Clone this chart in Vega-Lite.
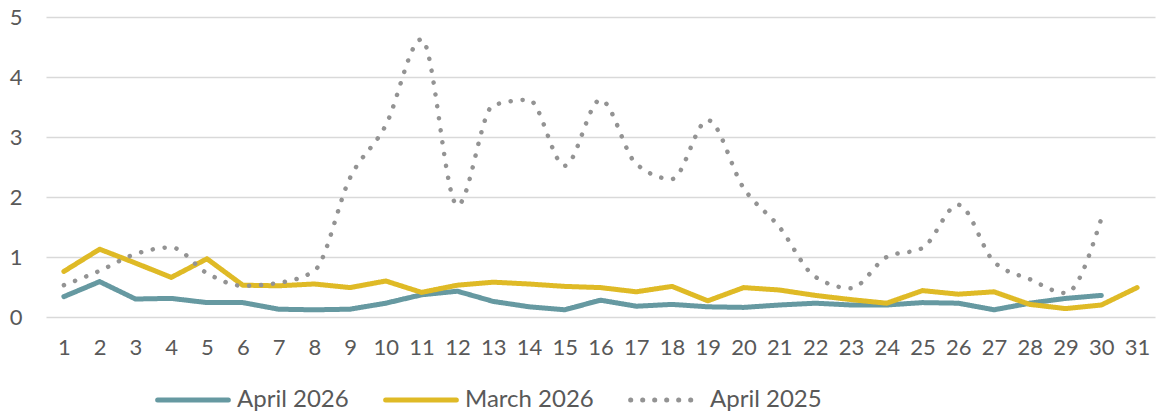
{
  "$schema": "https://vega.github.io/schema/vega-lite/v6.json",
  "autosize": "none",
  "width": 1109,
  "height": 300,
  "padding": {"left": 46, "top": 17, "right": 5, "bottom": 100},
  "background": "white",
  "config": {
    "font": "Lato",
    "view": {"stroke": null},
    "axis": {"labelFont": "Lato", "labelFontSize": 22, "labelColor": "#595959"}
  },
  "data": {
    "values": [
      {"day": "1", "series": "April 2026", "value": 0.34},
      {"day": "2", "series": "April 2026", "value": 0.59},
      {"day": "3", "series": "April 2026", "value": 0.30},
      {"day": "4", "series": "April 2026", "value": 0.31},
      {"day": "5", "series": "April 2026", "value": 0.24},
      {"day": "6", "series": "April 2026", "value": 0.24},
      {"day": "7", "series": "April 2026", "value": 0.13},
      {"day": "8", "series": "April 2026", "value": 0.12},
      {"day": "9", "series": "April 2026", "value": 0.13},
      {"day": "10", "series": "April 2026", "value": 0.23},
      {"day": "11", "series": "April 2026", "value": 0.37},
      {"day": "12", "series": "April 2026", "value": 0.43},
      {"day": "13", "series": "April 2026", "value": 0.26},
      {"day": "14", "series": "April 2026", "value": 0.17},
      {"day": "15", "series": "April 2026", "value": 0.12},
      {"day": "16", "series": "April 2026", "value": 0.28},
      {"day": "17", "series": "April 2026", "value": 0.18},
      {"day": "18", "series": "April 2026", "value": 0.21},
      {"day": "19", "series": "April 2026", "value": 0.17},
      {"day": "20", "series": "April 2026", "value": 0.16},
      {"day": "21", "series": "April 2026", "value": 0.20},
      {"day": "22", "series": "April 2026", "value": 0.23},
      {"day": "23", "series": "April 2026", "value": 0.20},
      {"day": "24", "series": "April 2026", "value": 0.20},
      {"day": "25", "series": "April 2026", "value": 0.24},
      {"day": "26", "series": "April 2026", "value": 0.23},
      {"day": "27", "series": "April 2026", "value": 0.12},
      {"day": "28", "series": "April 2026", "value": 0.23},
      {"day": "29", "series": "April 2026", "value": 0.31},
      {"day": "30", "series": "April 2026", "value": 0.36},
      {"day": "1", "series": "March 2026", "value": 0.76},
      {"day": "2", "series": "March 2026", "value": 1.13},
      {"day": "3", "series": "March 2026", "value": 0.90},
      {"day": "4", "series": "March 2026", "value": 0.66},
      {"day": "5", "series": "March 2026", "value": 0.97},
      {"day": "6", "series": "March 2026", "value": 0.53},
      {"day": "7", "series": "March 2026", "value": 0.52},
      {"day": "8", "series": "March 2026", "value": 0.55},
      {"day": "9", "series": "March 2026", "value": 0.49},
      {"day": "10", "series": "March 2026", "value": 0.60},
      {"day": "11", "series": "March 2026", "value": 0.41},
      {"day": "12", "series": "March 2026", "value": 0.53},
      {"day": "13", "series": "March 2026", "value": 0.58},
      {"day": "14", "series": "March 2026", "value": 0.55},
      {"day": "15", "series": "March 2026", "value": 0.51},
      {"day": "16", "series": "March 2026", "value": 0.49},
      {"day": "17", "series": "March 2026", "value": 0.42},
      {"day": "18", "series": "March 2026", "value": 0.51},
      {"day": "19", "series": "March 2026", "value": 0.27},
      {"day": "20", "series": "March 2026", "value": 0.49},
      {"day": "21", "series": "March 2026", "value": 0.45},
      {"day": "22", "series": "March 2026", "value": 0.36},
      {"day": "23", "series": "March 2026", "value": 0.29},
      {"day": "24", "series": "March 2026", "value": 0.23},
      {"day": "25", "series": "March 2026", "value": 0.44},
      {"day": "26", "series": "March 2026", "value": 0.38},
      {"day": "27", "series": "March 2026", "value": 0.42},
      {"day": "28", "series": "March 2026", "value": 0.21},
      {"day": "29", "series": "March 2026", "value": 0.14},
      {"day": "30", "series": "March 2026", "value": 0.20},
      {"day": "31", "series": "March 2026", "value": 0.49},
      {"day": "1", "series": "April 2025", "value": 0.53},
      {"day": "2", "series": "April 2025", "value": 0.77},
      {"day": "3", "series": "April 2025", "value": 1.05},
      {"day": "4", "series": "April 2025", "value": 1.16},
      {"day": "5", "series": "April 2025", "value": 0.73},
      {"day": "6", "series": "April 2025", "value": 0.52},
      {"day": "7", "series": "April 2025", "value": 0.57},
      {"day": "8", "series": "April 2025", "value": 0.77},
      {"day": "9", "series": "April 2025", "value": 2.32},
      {"day": "10", "series": "April 2025", "value": 3.2},
      {"day": "11", "series": "April 2025", "value": 4.63},
      {"day": "12", "series": "April 2025", "value": 1.86},
      {"day": "13", "series": "April 2025", "value": 3.53},
      {"day": "14", "series": "April 2025", "value": 3.62},
      {"day": "15", "series": "April 2025", "value": 2.52},
      {"day": "16", "series": "April 2025", "value": 3.62},
      {"day": "17", "series": "April 2025", "value": 2.55},
      {"day": "18", "series": "April 2025", "value": 2.3},
      {"day": "19", "series": "April 2025", "value": 3.28},
      {"day": "20", "series": "April 2025", "value": 2.15},
      {"day": "21", "series": "April 2025", "value": 1.5},
      {"day": "22", "series": "April 2025", "value": 0.67},
      {"day": "23", "series": "April 2025", "value": 0.48},
      {"day": "24", "series": "April 2025", "value": 1.0},
      {"day": "25", "series": "April 2025", "value": 1.15},
      {"day": "26", "series": "April 2025", "value": 1.87},
      {"day": "27", "series": "April 2025", "value": 0.92},
      {"day": "28", "series": "April 2025", "value": 0.63},
      {"day": "29", "series": "April 2025", "value": 0.4},
      {"day": "30", "series": "April 2025", "value": 1.64}
    ]
  },
  "encoding": {
    "x": {
      "field": "day", "type": "ordinal", "sort": null,
      "scale": {"type": "point", "padding": 0.5},
      "axis": {"title": null, "labelAngle": 0, "domain": false, "ticks": false, "labelPadding": 20, "grid": false}
    },
    "y": {
      "field": "value", "type": "quantitative",
      "scale": {"domain": [0, 5], "nice": false},
      "axis": {"title": null, "values": [0,1,2,3,4,5], "domain": false, "ticks": false, "labelPadding": 24, "grid": true, "gridColor": "#d9d9d9", "gridWidth": 1.5}
    },
    "color": {
      "field": "series", "type": "nominal",
      "scale": {"domain": ["April 2026", "March 2026", "April 2025"], "range": ["#6699a1", "#dfba26", "#939393"]},
      "legend": {
        "title": null, "orient": "none", "direction": "horizontal",
        "legendX": 109, "legendY": 345,
        "symbolType": "stroke", "symbolSize": 5000, "symbolStrokeWidth": 5,
        "labelFont": "Lato", "labelFontSize": 24, "labelColor": "#595959",
        "labelOffset": 6, "columnPadding": 26,
        "encode": {"symbols": {"update": {"strokeCap": {"value": "round"}}}}
      }
    },
    "strokeDash": {
      "field": "series", "type": "nominal",
      "scale": {"domain": ["April 2026", "March 2026", "April 2025"], "range": [[1, 0], [1, 0], [0.1, 11.9]]},
      "legend": {
        "title": null, "orient": "none", "direction": "horizontal",
        "legendX": 109, "legendY": 345,
        "symbolType": "stroke", "symbolSize": 5000, "symbolStrokeWidth": 5,
        "labelFont": "Lato", "labelFontSize": 24, "labelColor": "#595959",
        "labelOffset": 6, "columnPadding": 26,
        "encode": {"symbols": {"update": {"strokeCap": {"value": "round"}}}}
      }
    }
  },
  "layer": [
    {
      "transform": [{"filter": "datum.series !== 'April 2025'"}],
      "mark": {"type": "line", "strokeWidth": 5, "strokeCap": "round", "strokeJoin": "round"}
    },
    {
      "transform": [{"filter": "datum.series === 'April 2025'"}],
      "mark": {"type": "line", "strokeWidth": 4.5, "strokeCap": "round", "interpolate": "monotone"}
    }
  ]
}
